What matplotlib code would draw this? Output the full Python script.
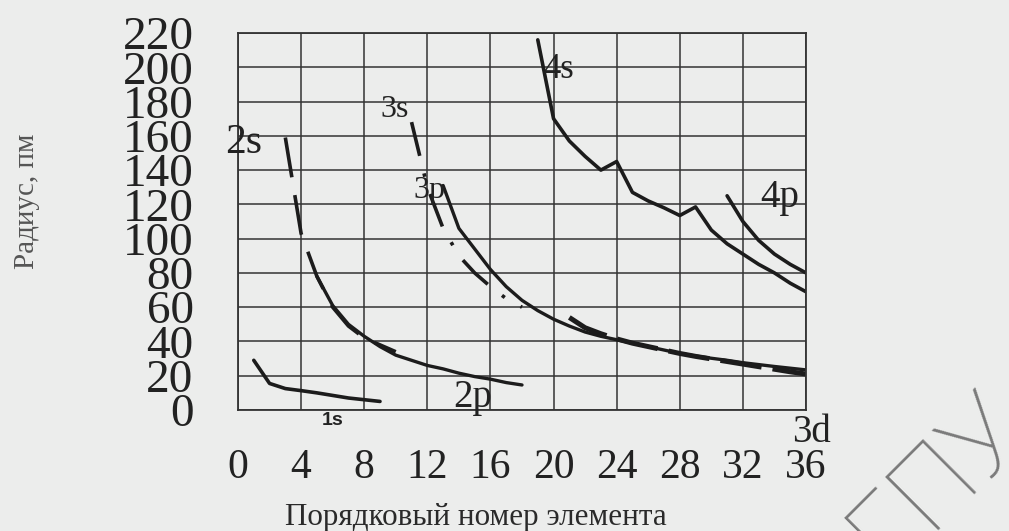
import matplotlib
matplotlib.use("Agg")
import matplotlib.pyplot as plt

plt.rcParams['lines.scale_dashes'] = False

# ---------------- data ----------------
x_ticks = [0, 4, 8, 12, 16, 20, 24, 28, 32, 36]
x_tick_labels = ["0", "4", "8", "12", "16", "20", "24", "28", "32", "36"]
y_ticks = [0, 20, 40, 60, 80, 100, 120, 140, 160, 180, 200, 220]
y_tick_labels = ["0", "20", "40", "60", "80", "100", "120", "140", "160", "180", "200", "220"]

z_1s = [1, 2, 3, 4, 5, 6, 7, 8, 9]
r_1s = [29, 15.5, 12.5, 11.3, 10, 8.5, 7, 6, 5]

z_2s = [3, 4, 5, 6, 7, 8, 9, 10]
r_2s = [159, 103, 78, 60, 49, 42, 38, 34]

z_2p = [5, 6, 7, 8, 9, 10, 11, 12, 13, 14, 15, 16, 17, 18]
r_2p = [78, 61, 50, 43, 37, 32, 29, 26, 24, 21.5, 19.5, 18, 16, 14.6]

z_3s = [11, 12, 13, 14, 15, 16, 17, 18]
r_3s = [168, 130, 106, 90, 80, 72, 65, 60]

z_3p = [13, 14, 15, 16, 17, 18, 19, 20, 21, 22, 23, 24, 25, 26, 27, 28, 29, 30,
        31, 32, 33, 34, 35, 36]
r_3p = [131, 106, 94, 82, 72, 64, 58, 53, 49, 45.5, 43, 41, 39, 37, 35, 33, 31.5,
        30.2, 29, 27.6, 26.5, 25.4, 24.4, 23.4]

z_3d = [21, 22, 23, 24, 25, 26, 27, 28, 29, 30, 31, 32, 33, 34, 35, 36]
r_3d = [54, 48, 44.5, 41.5, 39, 37, 35, 33, 31.3, 29.8, 28.3, 26.8, 25.3, 23.8, 22.3, 21]

z_4s = [19, 20, 21, 22, 23, 24, 25, 26, 27, 28, 29, 30, 31, 32, 33, 34, 35, 36]
r_4s = [216, 170, 157, 148, 140, 145, 127, 122, 118, 113.5, 118.5, 105, 97, 91, 85,
        80, 74, 69]

z_4p = [31, 32, 33, 34, 35, 36]
r_4p = [125, 110, 99, 91, 85, 80]

# ---------------- figure ----------------
bg = '#ecedec'
ink = '#1c1c1c'
serif = 'Liberation Serif'

fig = plt.figure(figsize=(10.09, 5.31), dpi=100)
fig.patch.set_facecolor(bg)
ax = fig.add_axes([238 / 1009, 121 / 531, 568 / 1009, 377 / 531])
ax.set_facecolor(bg)

ax.set_xlim(0, 36)
ax.set_ylim(0, 220)
ax.set_xticks(x_ticks)
ax.set_xticklabels(x_tick_labels, fontsize=30, family=serif, color='#222222')
ax.set_yticks(y_ticks)
ax.set_yticklabels(y_tick_labels, fontsize=34, family=serif, color='#222222')
ax.tick_params(axis='x', length=0, pad=28)
ax.tick_params(axis='y', length=0, pad=32)
ax.grid(True, color='#333333', linewidth=1.1)
ax.set_axisbelow(True)
for s in ax.spines.values():
    s.set_color('#333333')
    s.set_linewidth(1.3)

common = dict(color=ink, solid_capstyle='round', solid_joinstyle='round',
              dash_capstyle='butt', dash_joinstyle='round')

ax.plot(z_1s, r_1s, lw=2.6, **common)
ax.plot(z_2s, r_2s, lw=2.6, linestyle=(0, (29, 13)), **common)
ax.plot(z_2p, r_2p, lw=2.4, **common)
ax.plot(z_3s, r_3s, lw=2.6, linestyle=(0, (25, 13, 2.5, 13)), **common)
ax.plot(z_3p, r_3p, lw=2.4, **common)
ax.plot(z_3d, r_3d, lw=3.6, linestyle=(0, (30, 8)), **common)
ax.plot(z_4s, r_4s, lw=2.6, **common)
ax.plot(z_4p, r_4p, lw=2.6, **common)

tk = dict(family=serif, color='#222222', ha='left', va='baseline')
ax.text(-0.82, 150, '2s', fontsize=30, **tk)
ax.text(9.0, 171, '3s', fontsize=23, **tk)
ax.text(11.1, 123.6, '3p', fontsize=23, **tk)
ax.text(19.35, 194, '4s', fontsize=25, **tk)
ax.text(33.1, 118.4, '4p', fontsize=28, **tk)
ax.text(13.63, 1.8, '2p', fontsize=28, **tk)
ax.text(35.1, -18.7, '3d', fontsize=28, **tk)
ax.text(5.32, -8.8, '1s', fontsize=14, family='Liberation Sans', fontweight='bold',
        color='#222222', ha='left', va='baseline')

fig.text(27 / 1009, 1 - 201 / 531, 'Радиус, пм', rotation=90, fontsize=21,
         family=serif, color='#555555', ha='center', va='center')
fig.text(476 / 1009, 1 - 518 / 531, 'Порядковый номер элемента', fontsize=22.4,
         family=serif, color='#2a2a2a', ha='center', va='center')

# library watermark (rotated letters in the lower right corner)
fig.text(888 / 1009, -40 / 531, 'ГПУ', rotation=45, rotation_mode='anchor',
         ha='left', va='baseline', fontsize=76, color='#7b7b7b',
         family=['Roboto', 'DejaVu Sans'], fontweight='light')

fig.savefig('out.png', dpi=100, facecolor=bg)
